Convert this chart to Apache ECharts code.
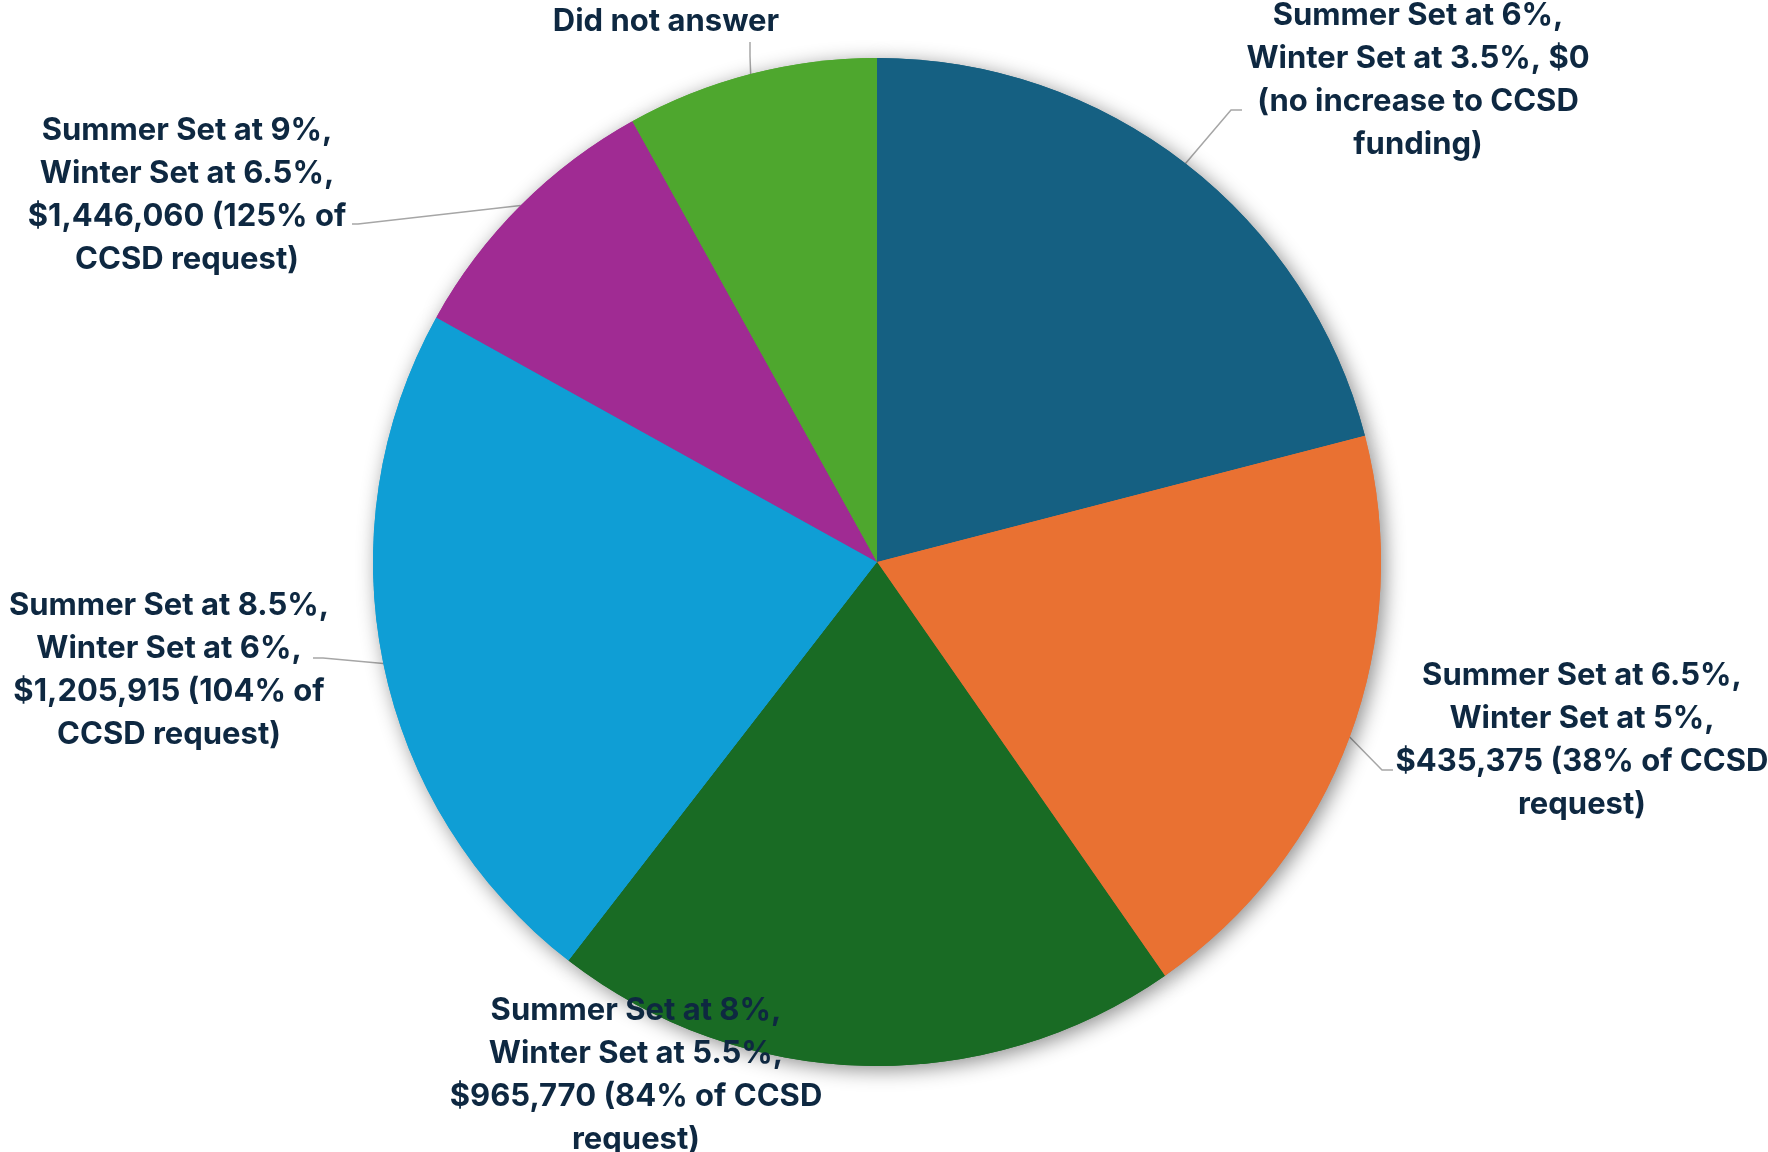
<!DOCTYPE html>
<html>
<head>
<meta charset="utf-8">
<script src="https://cdn.jsdelivr.net/npm/echarts@6/dist/echarts.min.js"></script>
<style>
html,body{margin:0;padding:0;background:#fff;}
#chart{width:1768px;height:1152px;}
</style>
</head>
<body>
<div id="chart"></div>
<script>
const categories = [
  "Summer Set at 6%,\nWinter Set at 3.5%, $0\n(no increase to CCSD\nfunding)",
  "Summer Set at 6.5%,\nWinter Set at 5%,\n$435,375 (38% of CCSD\nrequest)",
  "Summer Set at 8%,\nWinter Set at 5.5%,\n$965,770 (84% of CCSD\nrequest)",
  "Summer Set at 8.5%,\nWinter Set at 6%,\n$1,205,915 (104% of\nCCSD request)",
  "Summer Set at 9%,\nWinter Set at 6.5%,\n$1,446,060 (125% of\nCCSD request)",
  "Did not answer"
];
const responses = [26, 24, 25, 28, 11, 10];
const sliceColors = ["#156082", "#E97132", "#196B24", "#0F9ED5", "#A02B93", "#4EA72E"];

// label placement (style only)
const labelAnchors = [
  {x: 1418, y: 80,   elbow: [1231, 110], end: [1242, 110]},
  {x: 1582, y: 740,  elbow: [1382, 770], end: [1393, 770]},
  {x: 636,  y: 1075, elbow: null, end: null},
  {x: 169,  y: 670,  elbow: [323, 658], end: [313, 658]},
  {x: 187,  y: 195,  elbow: [358, 224], end: [352, 224]},
  {x: 666,  y: 22,   elbow: [750, 56], end: [750, 42]}
];

const pieData = categories.map((c, i) => ({
  name: c,
  value: responses[i],
  itemStyle: {color: sliceColors[i]},
  labelLine: {show: labelAnchors[i].elbow !== null}
}));

const chart = echarts.init(document.getElementById('chart'), null, {renderer: 'canvas'});
const center = [877, 562];
const radius = 504;

chart.setOption({
  backgroundColor: '#ffffff',
  animation: false,
  series: [
    {
      type: 'pie',
      silent: true,
      center: center,
      radius: radius,
      startAngle: 90,
      clockwise: true,
      label: {show: false},
      labelLine: {show: false},
      itemStyle: {
        shadowBlur: 20,
        shadowColor: 'rgba(0,0,0,0.45)',
        shadowOffsetX: 4,
        shadowOffsetY: 4
      },
      data: categories.map((c, i) => ({name: c, value: responses[i], itemStyle: {color: sliceColors[i]}}))
    },
    {
      type: 'pie',
      center: center,
      radius: radius,
      startAngle: 90,
      clockwise: true,
      avoidLabelOverlap: false,
      itemStyle: {borderWidth: 0},
      label: {
        show: true,
        position: 'outside',
        formatter: '{b}',
        fontFamily: 'Inter',
        fontWeight: 'bold',
        fontSize: 31,
        lineHeight: 43,
        color: '#0E2841',
        align: 'center'
      },
      labelLine: {
        show: true,
        lineStyle: {color: '#A6A6A6', width: 1.5}
      },
      labelLayout: function (params) {
        const a = labelAnchors[params.dataIndex];
        const out = {x: a.x, y: a.y, align: 'center', verticalAlign: 'middle'};
        if (a.elbow && params.labelLinePoints) {
          const p0 = params.labelLinePoints[0];
          out.labelLinePoints = [[p0[0], p0[1]], a.elbow, a.end];
        }
        return out;
      },
      data: pieData
    }
  ]
});
</script>
</body>
</html>
